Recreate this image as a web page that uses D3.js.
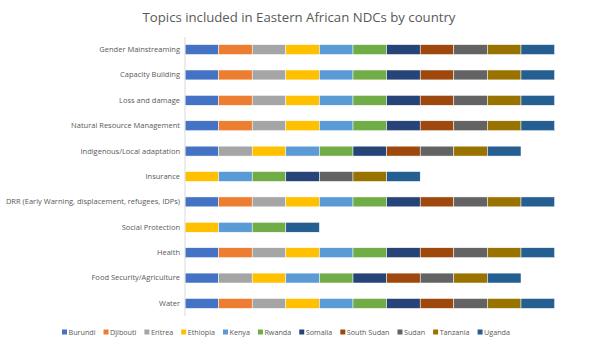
<!DOCTYPE html>
<html><head><meta charset="utf-8">
<script src="https://cdn.jsdelivr.net/npm/d3@7"></script>
<style>body{margin:0;background:#fff}svg{display:block;font-family:"Open Sans",sans-serif}</style>
</head><body><svg id="c" width="600" height="348"></svg>
<script>
const title = "Topics included in Eastern African NDCs by country";
const countries = ["Burundi","Djibouti","Eritrea","Ethiopia","Kenya","Rwanda","Somalia","South Sudan","Sudan","Tanzania","Uganda"];
const colors = ["#4472C4","#ED7D31","#A5A5A5","#FFC000","#5B9BD5","#70AD47","#264478","#9E480E","#636363","#997300","#255E91"];
const topics = ["Gender Mainstreaming","Capacity Building","Loss and damage","Natural Resource Management","Indigenous/Local adaptation","Insurance","DRR (Early Warning, displacement, refugees, IDPs)","Social Protection","Health","Food Security/Agriculture","Water"];
// 1 = topic included in that country's NDC, order follows topics
const Burundi    = [1,1,1,1,1,0,1,0,1,1,1];
const Djibouti   = [1,1,1,1,0,0,1,0,1,0,1];
const Eritrea    = [1,1,1,1,1,0,1,0,1,1,1];
const Ethiopia   = [1,1,1,1,1,1,1,1,1,1,1];
const Kenya      = [1,1,1,1,1,1,1,1,1,1,1];
const Rwanda     = [1,1,1,1,1,1,1,1,1,1,1];
const Somalia    = [1,1,1,1,1,1,1,0,1,1,1];
const SouthSudan = [1,1,1,1,1,0,1,0,1,1,1];
const Sudan      = [1,1,1,1,1,1,1,0,1,1,1];
const Tanzania   = [1,1,1,1,1,1,1,0,1,1,1];
const Uganda     = [1,1,1,1,1,1,1,1,1,1,1];
const seriesValues = [Burundi,Djibouti,Eritrea,Ethiopia,Kenya,Rwanda,Somalia,SouthSudan,Sudan,Tanzania,Uganda];

const table = topics.map((t,i)=>{const o={topic:t};countries.forEach((c,j)=>o[c]=seriesValues[j][i]);return o;});
const stack = d3.stack().keys(countries)(table);

const svg = d3.select("#c");
const mLeft = 185, mTop = 37, mBottom = 316;
const x = d3.scaleLinear().domain([0,11]).range([mLeft, mLeft + 11*33.6]);
const y = d3.scaleBand().domain(topics).range([mTop, mBottom]).paddingInner(0.61).paddingOuter(0.3);
const color = d3.scaleOrdinal().domain(countries).range(colors);

svg.append("text").attr("x",299).attr("y",22).attr("text-anchor","middle")
  .attr("font-size",13.2).attr("fill","#595959").text(title);

svg.append("g").selectAll("g").data(stack).join("g").attr("fill",d=>color(d.key))
  .selectAll("rect").data(d=>d.filter(p=>p[1]>p[0])).join("rect")
  .attr("x",d=>x(d[0])).attr("width",d=>x(d[1])-x(d[0]))
  .attr("y",d=>y(d.data.topic)).attr("height",y.bandwidth())
  .attr("stroke","#ffffff").attr("stroke-width",0.5);

const ax = svg.append("g").attr("transform",`translate(${mLeft},0)`)
  .call(d3.axisLeft(y).tickSize(0).tickPadding(5));
ax.select(".domain").attr("stroke","#d9d9d9").attr("d",`M0,${mTop}V${mBottom}`);
ax.selectAll("text").attr("font-family","Open Sans").attr("font-size",7.5).attr("fill","#595959");

// legend
const lg = svg.append("g").attr("font-size",7.2).attr("fill","#595959");
let lx = 62;
countries.forEach((c,i)=>{
  const g = lg.append("g").attr("transform",`translate(${lx},333)`);
  g.append("rect").attr("x",0).attr("y",-3.5).attr("width",5).attr("height",5).attr("fill",color(c));
  const t = g.append("text").attr("x",6.5).attr("y",0).attr("dy","0.3em").attr("fill","#595959").text(c);
  lx += 6.5 + t.node().getComputedTextLength() + 8;
});
</script></body></html>
